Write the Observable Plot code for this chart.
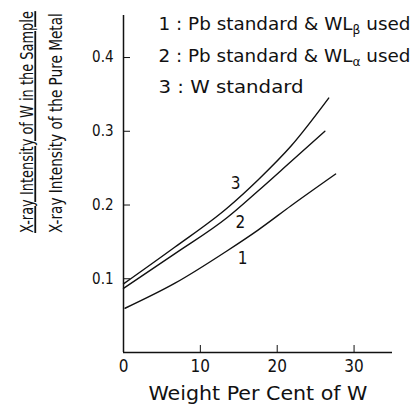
<!DOCTYPE html>
<html><head><meta charset="utf-8">
<script src="https://cdn.jsdelivr.net/npm/d3@7"></script>
<script src="https://cdn.jsdelivr.net/npm/@observablehq/plot@0.6"></script>
<style>body{margin:0;background:#fff} svg{display:block}</style>
</head><body><div id="chart"></div>
<script>
// ---- data ----
const seriesNames = ["1", "2", "3"];
const x1 = [0.2, 6.7, 13.5, 17.5, 21.8, 27.6];
const y1 = [0.060, 0.094, 0.138, 0.166, 0.199, 0.242];
const x2 = [0, 6.7, 13.5, 17.5, 21.8, 26.2];
const y2 = [0.087, 0.134, 0.183, 0.219, 0.259, 0.300];
const x3 = [0, 6.7, 13.5, 17.5, 21.8, 26.7];
const y3 = [0.093, 0.143, 0.196, 0.234, 0.280, 0.345];
const curveLabelX = [15.5, 15.2, 14.6];
const curveLabelY = [0.128, 0.176, 0.229];
const xTicks = [0, 10, 20, 30];
const yTicks = [0.1, 0.2, 0.3, 0.4];
const xTitle = "Weight Per Cent of W";
const yTitleTop = "X-ray Intensity of W in the Sample";
const yTitleBottom = "X-ray Intensity of the Pure Metal";
const legendLines = ["1 : Pb standard & WLβ used", "2 : Pb standard & WLα used", "3 : W standard"];

// ---- build table ----
const xs = [x1, x2, x3], ys = [y1, y2, y3];
const rows = seriesNames.flatMap((s, k) => xs[k].map((x, i) => ({series: s, x, y: ys[k][i]})));
const labels = seriesNames.map((s, k) => ({text: s, x: curveLabelX[k], y: curveLabelY[k]}));

const FONT = "'DejaVu Sans Condensed', 'Liberation Sans Narrow', 'DejaVu Sans', sans-serif";

const chart = Plot.plot({
  width: 411, height: 414,
  marginLeft: 123, marginRight: 19, marginTop: 15, marginBottom: 62,
  style: {fontFamily: FONT, color: "#111", background: "#fff"},
  x: {domain: [0, 35]},
  y: {domain: [0, 0.457]},
  marks: [
    Plot.ruleX([0], {strokeWidth: 1.5}),
    Plot.ruleY([0], {strokeWidth: 1.5}),
    Plot.axisY(yTicks, {anchor: "left", tickSize: -7, tickPadding: 17, fontSize: 15, tickFormat: d3.format(".1f"), label: null}),
    Plot.axisX(xTicks, {anchor: "bottom", tickSize: -7, tickPadding: 14, fontSize: 17, tickFormat: d => String(d), label: null}),
    Plot.line(rows, {x: "x", y: "y", z: "series", curve: "monotone-x", stroke: "#111", strokeWidth: 1.4}),
    Plot.text(labels, {x: "x", y: "y", text: "text", fontSize: 17}),
    Plot.text([xTitle], {frameAnchor: "bottom", dy: 47, fontSize: 20}),
    Plot.text([yTitleTop], {frameAnchor: "left", rotate: -90, textAnchor: "start", dx: -96, dy: 49, fontSize: 18}),
    Plot.text([yTitleBottom], {frameAnchor: "left", rotate: -90, textAnchor: "start", dx: -67, dy: 49, fontSize: 18}),
    ...legendLines.map((t, i) => Plot.text([t], {frameAnchor: "top-left", textAnchor: "start", dx: 35, dy: 2 + i * 31.5, fontSize: 18}))
  ]
});
document.getElementById("chart").append(chart);

// post-process: fit text widths, subscripts, fraction bar
const svg = d3.select(chart);
const fit = {[xTitle]: 219, [legendLines[0]]: 252, [legendLines[1]]: 252, [legendLines[2]]: 145};
const squeeze = {[yTitleTop]: 222, [yTitleBottom]: 220};
svg.selectAll("text").each(function() {
  const t = this.textContent;
  if (fit[t] != null) {
    d3.select(this).attr("textLength", fit[t]).attr("lengthAdjust", "spacingAndGlyphs");
  }
  if (squeeze[t] != null) {
    const len = this.getComputedTextLength();
    const el = d3.select(this);
    el.attr("transform", el.attr("transform") + ` scale(${squeeze[t] / len},1)`);
  }
  const m = t.match(/^(.*WL)([αβ])(.*)$/);
  if (m) {
    const el = d3.select(this);
    el.text(null);
    el.append("tspan").text(m[1]);
    el.append("tspan").text(m[2]).attr("font-size", 12).attr("dy", 4);
    el.append("tspan").text(m[3]).attr("dy", -4);
  }
  if (t === yTitleTop) d3.select(this).style("text-decoration", "underline");
});
</script></body></html>
